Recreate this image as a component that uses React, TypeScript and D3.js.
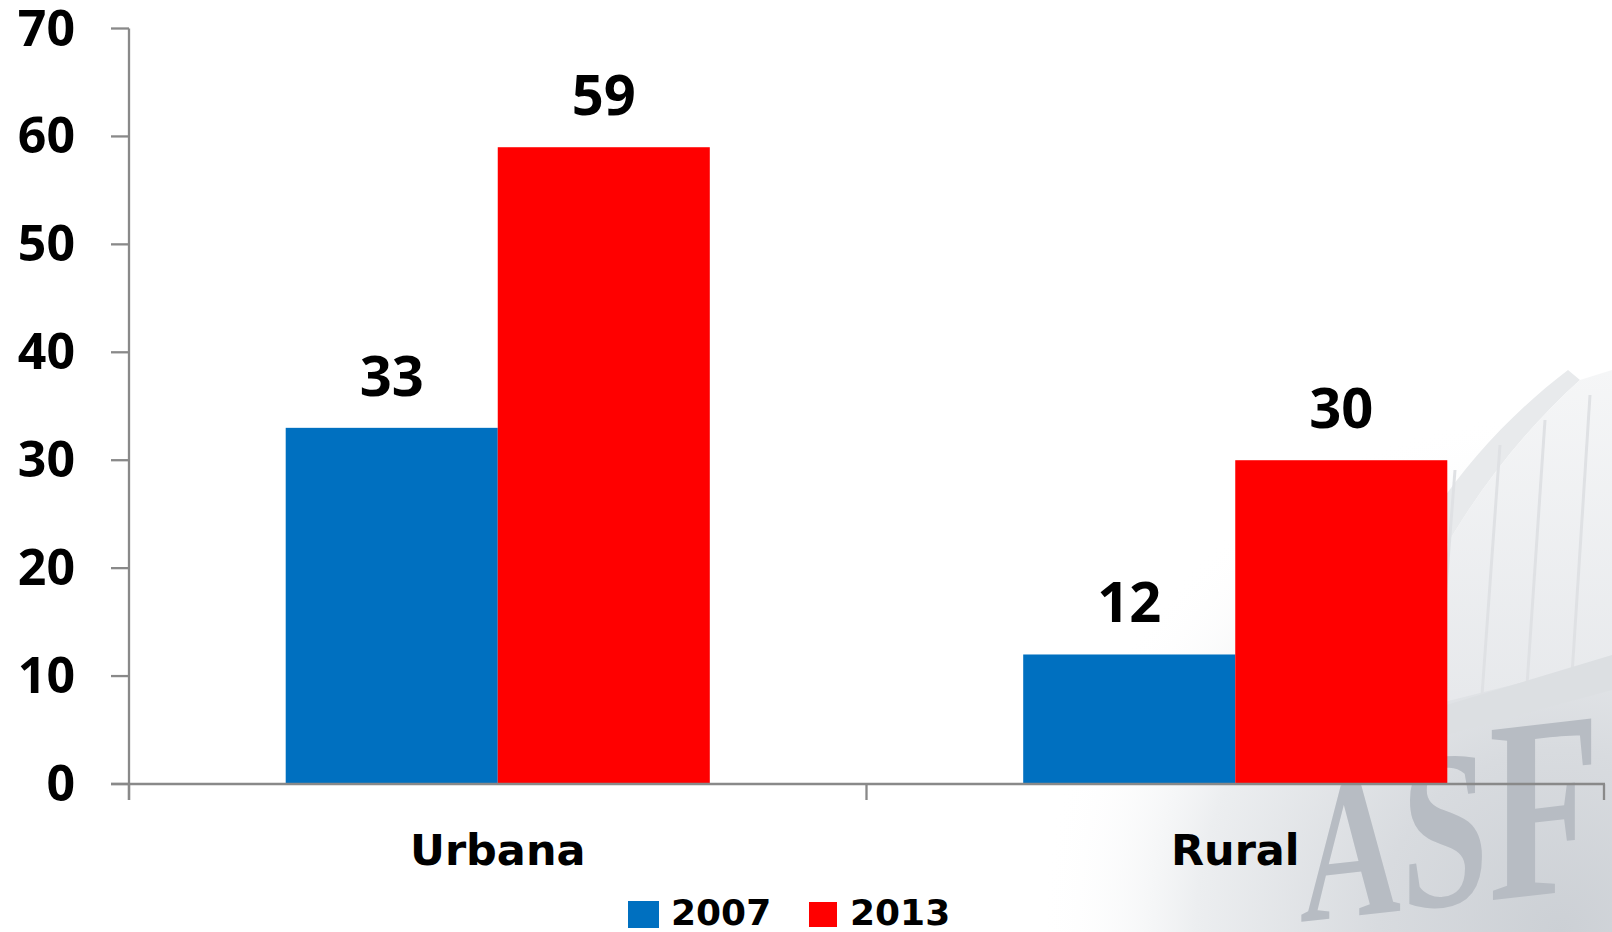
import React from "react";
import * as d3 from "d3";

const categories = ["Urbana", "Rural"];
const seriesNames = ["2007", "2013"];
const values2007 = [33, 12];
const values2013 = [59, 30];
const yTicks = [0, 10, 20, 30, 40, 50, 60, 70];
const colors = ["#0070C0", "#FF0000"];

const W = 1612;
const H = 932;
const FONT = "'Open Sans', 'DejaVu Sans', sans-serif";
const FONT2 = "'DejaVu Sans', Verdana, sans-serif";

export default function App() {
  const y = d3.scaleLinear().domain([0, 70]).range([784, 28.5]);
  const x0 = d3.scaleBand<string>().domain(categories).range([129, 1604]).paddingInner(0).paddingOuter(0);
  const x1 = d3
    .scaleBand<string>()
    .domain(seriesNames)
    .range([0, x0.bandwidth()])
    .paddingInner(0)
    .paddingOuter(0.739);
  const series = [values2007, values2013];
  const axisColor = "#898989";

  return (
    <div style={{ position: "absolute", left: 0, top: 0, margin: 0 }}>
      <svg width={W} height={H} style={{ display: "block", background: "#fff" }}>
        <defs>
          <radialGradient id="wm" cx="1560" cy="932" r="520" gradientUnits="userSpaceOnUse">
            <stop offset="0" stopColor="#ccd0d5" />
            <stop offset="0.35" stopColor="#d8dbdf" />
            <stop offset="0.7" stopColor="#eceef0" />
            <stop offset="1" stopColor="#ffffff" stopOpacity="0" />
          </radialGradient>
          <linearGradient id="bld" x1="0" y1="0" x2="0" y2="1">
            <stop offset="0" stopColor="#f5f6f7" />
            <stop offset="1" stopColor="#e6e8eb" />
          </linearGradient>
        </defs>
        {/* watermark background */}
        <rect x={1000} y={300} width={612} height={632} fill="url(#wm)" />
        <g>
          <path
            d="M1340,720 C1380,580 1450,460 1568,370 L1580,380 C1480,470 1410,590 1372,720 Z"
            fill="#e8eaec"
          />
          <path d="M1372,720 C1410,590 1480,470 1580,380 L1612,370 L1612,660 L1372,720 Z" fill="url(#bld)" />
          {[1455, 1500, 1545, 1590].map((lx, i) => (
            <line key={i} x1={lx - 18} y1={705 - i * 10} x2={lx} y2={470 - i * 25} stroke="#dfe1e4" strokeWidth={3} />
          ))}
          <path d="M1380,725 L1612,655 L1612,690 L1390,750 Z" fill="#dcdfe2" />
        </g>
        <text
          transform="translate(1300 922) skewY(-6.5) scale(0.7 1)"
          fontFamily="'Liberation Serif', serif"
          fontWeight="bold"
          fill="#b7bcc3"
        >
          <tspan fontSize={200}>A</tspan>
          <tspan fontSize={225}>S</tspan>
          <tspan fontSize={260}>F</tspan>
        </text>

        {/* bars */}
        {categories.map((c, ci) => (
          <g key={c} transform={`translate(${x0(c)},0)`}>
            {seriesNames.map((s, si) => {
              const v = series[si][ci];
              return (
                <rect
                  key={s}
                  x={x1(s)}
                  y={y(v)}
                  width={x1.bandwidth()}
                  height={y(0) - y(v)}
                  fill={colors[si]}
                />
              );
            })}
            {seriesNames.map((s, si) => {
              const v = series[si][ci];
              return (
                <text
                  key={"l" + s}
                  x={(x1(s) as number) + x1.bandwidth() / 2}
                  y={y(v) - 32}
                  textAnchor="middle"
                  fontFamily={FONT}
                  fontWeight="bold"
                  fontSize={56}
                  fill="#000"
                >
                  {v}
                </text>
              );
            })}
          </g>
        ))}

        {/* y axis */}
        <line x1={129} x2={129} y1={y(70)} y2={800} stroke={axisColor} strokeWidth={2.3} />
        {yTicks.map((t) => (
          <g key={t}>
            <line x1={111} x2={129} y1={y(t)} y2={y(t)} stroke={axisColor} strokeWidth={2.3} />
            <text
              x={75}
              y={y(t) + 17}
              textAnchor="end"
              fontFamily={FONT}
              fontWeight="bold"
              fontSize={50}
              fill="#000"
            >
              {t}
            </text>
          </g>
        ))}

        {/* x axis */}
        <line x1={111} x2={1605} y1={y(0)} y2={y(0)} stroke={axisColor} strokeWidth={2.3} />
        {[129, ...categories.map((c) => (x0(c) as number) + x0.bandwidth())].map((tx, i) => (
          <line key={i} x1={tx} x2={tx} y1={y(0)} y2={800} stroke={axisColor} strokeWidth={2.3} />
        ))}
        {categories.map((c) => (
          <text
            key={c}
            x={(x0(c) as number) + x0.bandwidth() / 2}
            y={865}
            textAnchor="middle"
            fontFamily={FONT2}
            fontWeight="bold"
            fontSize={43}
            fill="#000"
          >
            {c}
          </text>
        ))}

        {/* legend */}
        <rect x={628} y={901} width={31} height={27} fill={colors[0]} />
        <text x={671} y={925} fontFamily={FONT2} fontWeight="bold" fontSize={36} fill="#000">
          {seriesNames[0]}
        </text>
        <rect x={809} y={902} width={28} height={25} fill={colors[1]} />
        <text x={850} y={925} fontFamily={FONT2} fontWeight="bold" fontSize={36} fill="#000">
          {seriesNames[1]}
        </text>
      </svg>
    </div>
  );
}
